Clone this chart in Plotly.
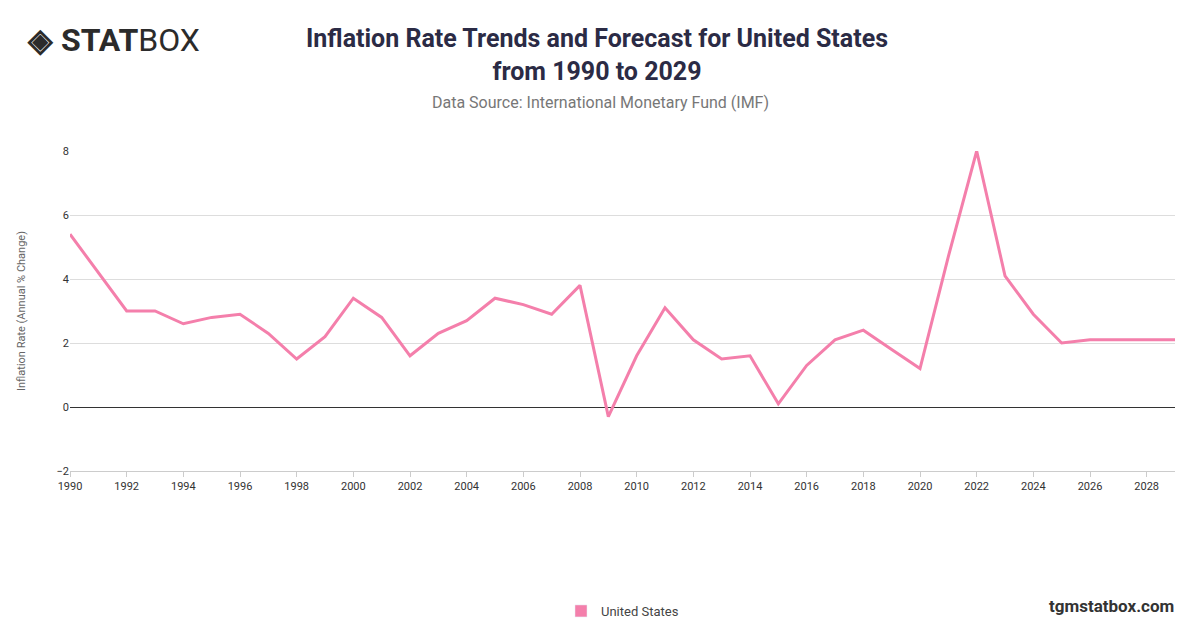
import plotly.graph_objects as go

years = list(range(1990, 2030))
inflation = [5.4, 4.2, 3.0, 3.0, 2.6, 2.8, 2.9, 2.3, 1.5, 2.2,
             3.4, 2.8, 1.6, 2.3, 2.7, 3.4, 3.2, 2.9, 3.8, -0.3,
             1.6, 3.1, 2.1, 1.5, 1.6, 0.1, 1.3, 2.1, 2.4, 1.8,
             1.2, 4.7, 8.0, 4.1, 2.9, 2.0, 2.1, 2.1, 2.1, 2.1]
tick_years = list(range(1990, 2030, 2))
y_ticks = [-2, 0, 2, 4, 6, 8]

pink = "#f47fab"
fnt = "Roboto, Helvetica, Arial, sans-serif"

fig = go.Figure()
fig.add_trace(go.Scatter(x=years, y=inflation, mode="lines", name="United States",
                         line=dict(color=pink, width=3), showlegend=False))
# legend swatch only
fig.add_trace(go.Bar(x=[None], y=[None], name="United States", marker_color=pink))

fig.update_layout(
    width=1200, height=628,
    paper_bgcolor="white", plot_bgcolor="white",
    margin=dict(l=70, r=25, t=151, b=157, autoexpand=False),
    font=dict(family=fnt, color="#555555", size=11),
    showlegend=True,
    legend=dict(orientation="h", x=0.5, xanchor="center", y=-0.4375, yanchor="middle",
                font=dict(size=13, color="#444444")),
    xaxis=dict(range=[1990, 2029], tickvals=tick_years, showgrid=False, automargin=False,
               showline=True, linecolor="#cccccc", ticks="outside", ticklen=5,
               tickcolor="#cccccc", tickfont=dict(size=11, color="#333333")),
    yaxis=dict(range=[-2, 8], tickvals=y_ticks, gridcolor="#dddddd", automargin=False,
               zeroline=True, zerolinecolor="#333333", zerolinewidth=1,
               tickfont=dict(size=11, color="#333333"),
               title=dict(text="Inflation Rate (Annual % Change)", standoff=28,
                          font=dict(size=11, color="#666666"))),
)


def py(p):
    return (471 - p) / 320


def px_(p):
    return (p - 70) / 1105


def note(text, x, y, size, color, xanchor="center", **kw):
    fig.add_annotation(text=text, x=px_(x), y=py(y), xref="paper", yref="paper",
                       showarrow=False, xanchor=xanchor, yanchor="middle",
                       font=dict(size=size, color=color, family=fnt), **kw)


note("<b>Inflation Rate Trends and Forecast for United States<br>from 1990 to 2029</b>",
     597, 55, 25, "#2b2b45", align="center")
note("Data Source: International Monetary Fund (IMF)", 600, 102, 16, "#777777")
note("<b>◈ STAT</b>BOX", 25, 40, 32, "#2b2b2b", xanchor="left")
note("<b>tgmstatbox.com</b>", 1176, 606, 17, "#333333", xanchor="right")

fig.write_html("out.html", config={"displayModeBar": False},
               post_script="document.body.style.margin='0';")
